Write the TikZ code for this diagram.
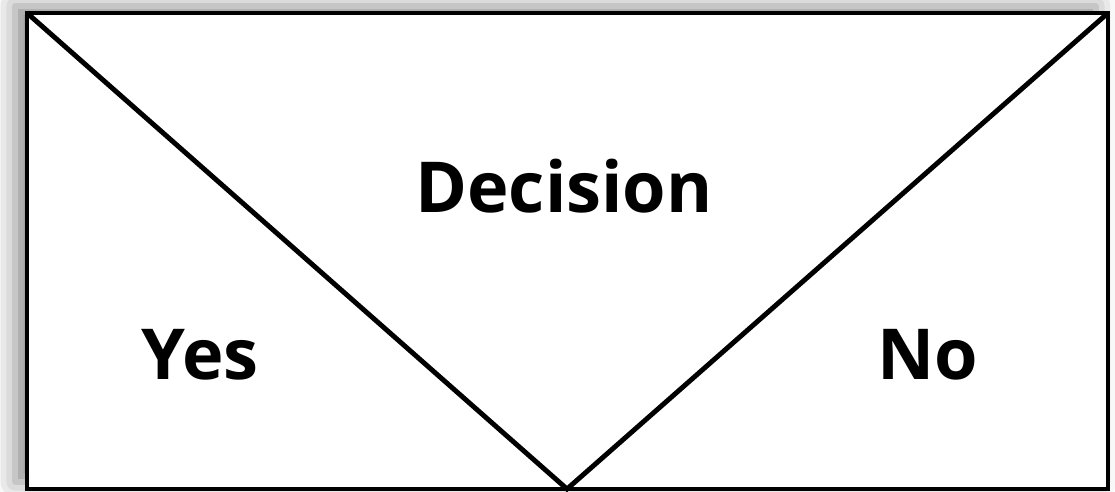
\documentclass[tikz,border=0pt]{standalone}
\usepackage{fontspec}
\setmainfont{Open Sans}
\usetikzlibrary{shadows.blur}
\usetikzlibrary{positioning}

\tikzset{
  nsbox/.style={draw=black, line width=1.4pt, fill=white,
    blur shadow={shadow xshift=-0.12cm, shadow yshift=0.07cm, shadow blur radius=0.2cm, shadow opacity=45}},
  nsline/.style={line width=1.4pt},
  nslabel/.style={font=\fontsize{20}{24}\selectfont\bfseries, inner sep=0pt}
}

\begin{document}
\begin{tikzpicture}
		\useasboundingbox (0,0) rectangle (11.15,4.92);
		
		% corners of the decision block
		\coordinate (tl) at (0.27,4.79);
		\coordinate (tr) at (11.08,4.79);
		\coordinate (bl) at (0.27,0.03);
		\coordinate (br) at (11.08,0.03);
		\coordinate (apex) at (5.67,0.03);
		
		\path[nsbox] (bl) rectangle (tr);
		
		% condition triangle
		\draw[nsline] (tl) -- (apex) -- (tr);
		
		\node[nslabel] (cond) at (5.64,3.06) {Decision};
		\node[nslabel] (yes) at (2.00,1.37) {Yes};
		\node[nslabel] (no) at (9.28,1.37) {No};
	\end{tikzpicture}
\end{document}
